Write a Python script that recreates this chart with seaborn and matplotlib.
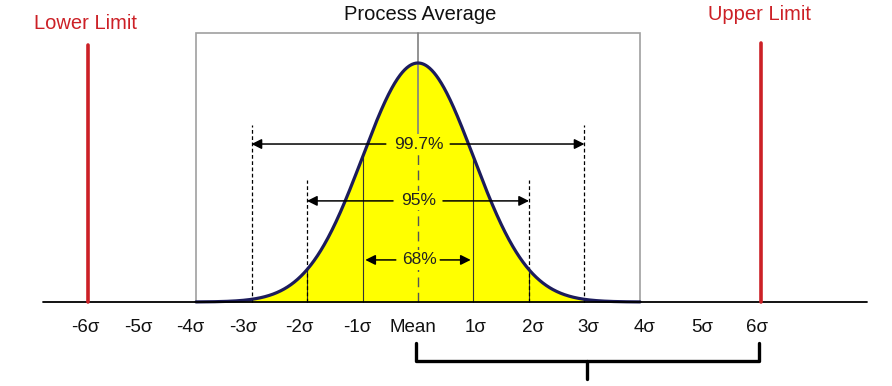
import numpy as np
import pandas as pd
import matplotlib
matplotlib.use('Agg')
import matplotlib.pyplot as plt
from matplotlib.patches import Rectangle
import seaborn as sns

sns.set_theme(style='white')
plt.rcParams['font.family'] = ['Liberation Sans', 'DejaVu Sans']
NARROW = ['Liberation Sans Narrow', 'Liberation Sans', 'DejaVu Sans']

# data
tick_labels = ['-6σ', '-5σ', '-4σ', '-3σ', '-2σ', '-1σ', 'Mean',
               '1σ', '2σ', '3σ', '4σ', '5σ', '6σ']
tick_pos = [-6.0, -5.04, -4.1, -3.15, -2.14, -1.1, -0.09,
            1.03, 2.07, 3.06, 4.09, 5.12, 6.1]
band_sigma = [3, 2, 1]
band_labels = ['99.7%', '95%', '68%']
lower_limit = -5.95
upper_limit = 6.18

# standard normal shape, scaled so the peak is 1
x = np.linspace(-4, 4, 801)
curve = pd.DataFrame({'sigma': x, 'density': np.exp(-x ** 2 / 2)})

fig = plt.figure(figsize=(8.92, 3.86), dpi=100)
ax = fig.add_axes([0, 0, 1, 1])

# box around the process
ax.add_patch(Rectangle((-4, 0), 8, 1.1255, fill=False, ec='#a0a0a0', lw=1.2, zorder=1))

# yellow area between -3 and 3 sigma
inside = curve[(curve.sigma >= -3) & (curve.sigma <= 3)]
ax.fill_between(inside.sigma, inside.density, color='#ffff00', lw=0, zorder=2)

# solid lines under the curve
for s in [-3, -2, -1, 1, 2, 3]:
    h = np.exp(-s ** 2 / 2)
    ax.plot([s, s], [0, h], color='#333333', lw=0.8, zorder=3)

# dashed guides for 95% and 99.7%
dash_top = {3: 0.741, 2: 0.510}
for s, top in dash_top.items():
    for sign in (-1, 1):
        ax.plot([sign * s, sign * s], [0, top], color='black', lw=0.9,
                ls=(0, (3, 2)), zorder=3)

# mean line
ax.plot([0, 0], [0.661, 1.1255], color='#808080', lw=1.2, zorder=3)
ax.plot([0, 0], [0, 0.661], color='#555555', lw=1.0, ls=(0, (7, 4)), zorder=3)

# curve
sns.lineplot(data=curve, x='sigma', y='density', color='#1c1c5c', lw=2.3,
             ax=ax, zorder=4)

# percentage arrows
band_y = [0.661, 0.423, 0.176]
gaps = [0.58, 0.45, 0.4]
ends = [3.0, 2.0, 0.95]
for lab, y, g, e in zip(band_labels, band_y, gaps, ends):
    for sign in (-1, 1):
        ax.annotate('', xy=(sign * e, y), xytext=(sign * g, y),
                    arrowprops=dict(arrowstyle='-|>', color='black', lw=1.1,
                                    mutation_scale=15, shrinkA=0, shrinkB=0),
                    zorder=5)
    ax.text(0.02, y, lab, ha='center', va='center', fontsize=12.5,
            family=NARROW, color='#222222', zorder=6,
            bbox=dict(fc='#ffff00', ec='none', pad=1.5))

# baseline
ax.plot([-6.76, 8.09], [0, 0], color='black', lw=1.3, zorder=5)

# spec limits
red = '#cc2026'
ax.plot([lower_limit, lower_limit], [0, 1.075], color=red, lw=2.6, zorder=5)
ax.plot([upper_limit, upper_limit], [0, 1.084], color=red, lw=2.6, zorder=5)
ax.text(-5.99, 1.167, 'Lower Limit', ha='center', va='center', fontsize=14.5, color=red)
ax.text(6.16, 1.201, 'Upper Limit', ha='center', va='center', fontsize=14.5, color=red)
ax.text(0.036, 1.205, 'Process Average', ha='center', va='center', fontsize=14.5,
        color='#111111')

# sigma labels
for p, lab in zip(tick_pos, tick_labels):
    ax.text(p, -0.105, lab, ha='center', va='center', fontsize=13.5,
            family=NARROW, color='#111111')

# brace from mean to 6 sigma
ax.plot([-0.036, -0.036, 6.14, 6.14], [-0.172, -0.247, -0.247, -0.172],
        color='black', lw=2.4, solid_joinstyle='round', solid_capstyle='round')
ax.plot([3.05, 3.05], [-0.247, -0.322], color='black', lw=2.4,
        solid_capstyle='round')

ax.set_xlim(-7.532, 8.541)
ax.set_ylim(-0.3515, 1.2636)
ax.axis('off')
fig.savefig('out.png', dpi=100, facecolor='white')
